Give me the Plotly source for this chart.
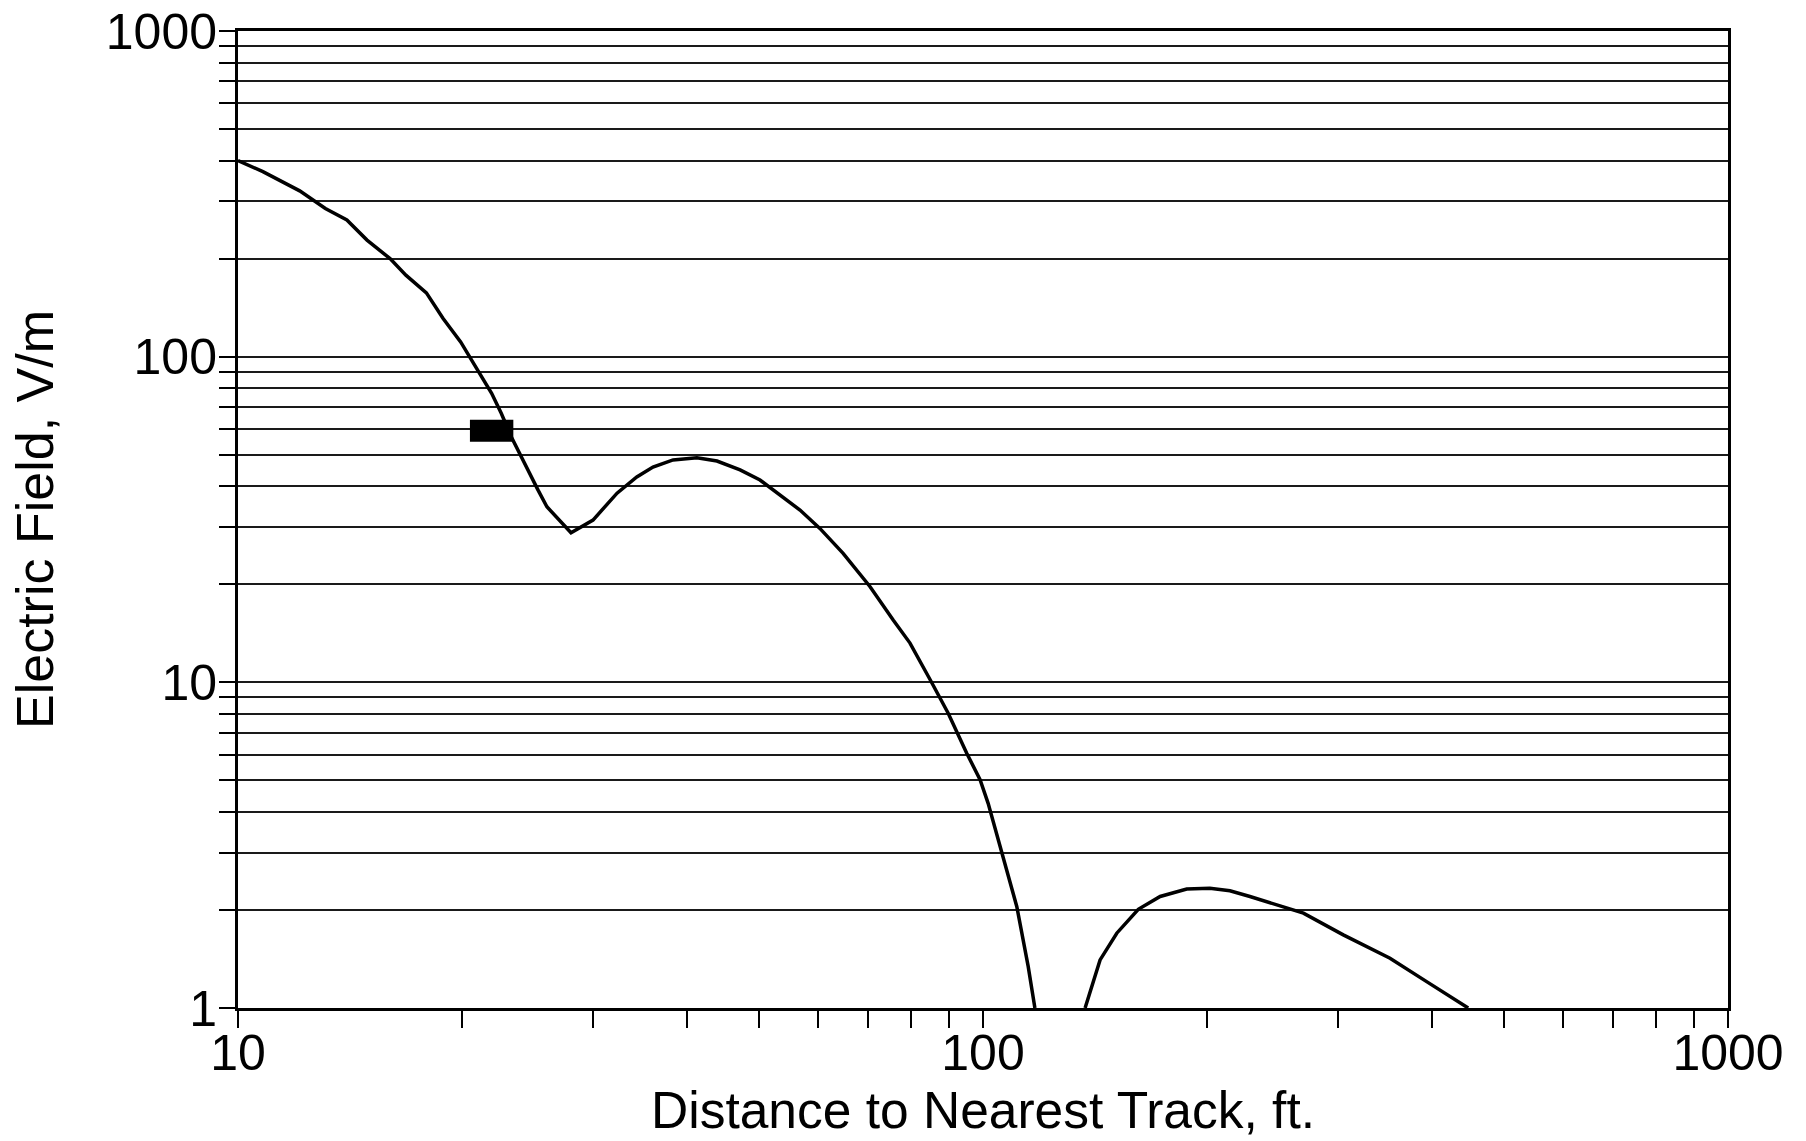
import plotly.graph_objects as go

# near-track branch of the calculated field (ft, V/m)
dist_near = [10, 10.8, 12.1, 13.1, 14.0, 14.9, 16.0, 16.8, 17.9, 18.85, 19.9, 21.0, 21.9, 22.56,
             23.27, 25.27, 25.98, 27.99, 29.96, 32.27, 34.3, 36.06, 38.37, 41.3, 43.95, 47.2,
             50.2, 56.8, 60.4, 64.9, 70.5, 75.8, 79.8, 84.9, 89.8, 95.1, 99.1, 101.6, 105.9,
             111.0, 115.0, 117.4]
field_near = [400, 370, 323, 285, 263, 228, 200, 178, 157, 131, 111, 91, 77.2, 67,
              56.8, 39.0, 34.6, 28.8, 31.5, 38.1, 42.7, 45.8, 48.2, 48.9, 47.8, 44.9,
              41.8, 33.8, 29.7, 24.9, 19.7, 15.5, 13.2, 10.2, 8.04, 6.06, 5.02, 4.25, 3.02,
              2.05, 1.34, 1.0]

# far branch after the null
dist_far = [137.1, 143.6, 151.2, 161.6, 172.9, 187.7, 201.6, 214.5, 228.2, 253.0, 269.2,
            304.5, 351.8, 394, 448]
field_far = [1.0, 1.405, 1.697, 2.01, 2.20, 2.32, 2.33, 2.29, 2.20, 2.05, 1.955,
             1.677, 1.422, 1.205, 1.0]

# measured value
meas_dist = [21.9]
meas_field = [59.2]

# tick positions, labels only on decades
x_tickvals = [10, 20, 30, 40, 50, 60, 70, 80, 90, 100, 200, 300, 400, 500, 600, 700, 800, 900, 1000]
x_ticktext = ["10", "", "", "", "", "", "", "", "", "100", "", "", "", "", "", "", "", "", "1000"]
y_tickvals = [1, 2, 3, 4, 5, 6, 7, 8, 9, 10, 20, 30, 40, 50, 60, 70, 80, 90,
              100, 200, 300, 400, 500, 600, 700, 800, 900, 1000]
y_ticktext = ["1", "", "", "", "", "", "", "", "", "10", "", "", "", "", "", "", "", "",
              "100", "", "", "", "", "", "", "", "", "1000"]

font_fam = "Liberation Sans, Arial, Helvetica, sans-serif"

fig = go.Figure()
fig.add_trace(go.Scatter(x=dist_near, y=field_near, mode="lines",
                         line=dict(color="black", width=3.5), showlegend=False))
fig.add_trace(go.Scatter(x=dist_far, y=field_far, mode="lines",
                         line=dict(color="black", width=3.5), showlegend=False))
fig.add_trace(go.Scatter(x=meas_dist, y=meas_field, mode="markers",
                         marker=dict(symbol="line-ew", size=31, color="black",
                                     line=dict(color="black", width=22)),
                         showlegend=False))

fig.update_layout(
    width=1806, height=1141,
    autosize=False,
    margin=dict(l=238, r=78, t=31, b=133),
    paper_bgcolor="white",
    plot_bgcolor="white",
    font=dict(family=font_fam, size=50, color="black"),
    xaxis=dict(
        type="log", range=[1, 3],
        tickmode="array", tickvals=x_tickvals, ticktext=x_ticktext,
        ticks="outside", ticklen=17, tickwidth=2, tickcolor="black",
        ticklabelstandoff=-18,
        showgrid=False, zeroline=False,
        showline=True, linewidth=3, linecolor="black", mirror=True,
        tickfont=dict(size=50),
        automargin=False,
    ),
    yaxis=dict(
        type="log", range=[0, 3],
        tickmode="array", tickvals=y_tickvals, ticktext=y_ticktext,
        ticks="outside", ticklen=16, tickwidth=2, tickcolor="black",
        ticklabelstandoff=-8,
        showgrid=True, gridcolor="#1a1a1a", gridwidth=1.5,
        zeroline=False,
        showline=True, linewidth=3, linecolor="black", mirror=True,
        tickfont=dict(size=50),
        automargin=False,
        title=dict(text="Electric Field, V/m", font=dict(size=52), standoff=36),
    ),
)

# x title as annotation so it can sit right under the tick labels
fig.add_annotation(text="Distance to Nearest Track, ft.", xref="paper", yref="paper",
                   x=0.5, y=0, xanchor="center", yanchor="bottom", yshift=-133,
                   showarrow=False, font=dict(size=51.5))

fig.write_html("out.html", config={"displayModeBar": False},
               post_script="document.body.style.margin='0';document.body.style.overflow='hidden';")
